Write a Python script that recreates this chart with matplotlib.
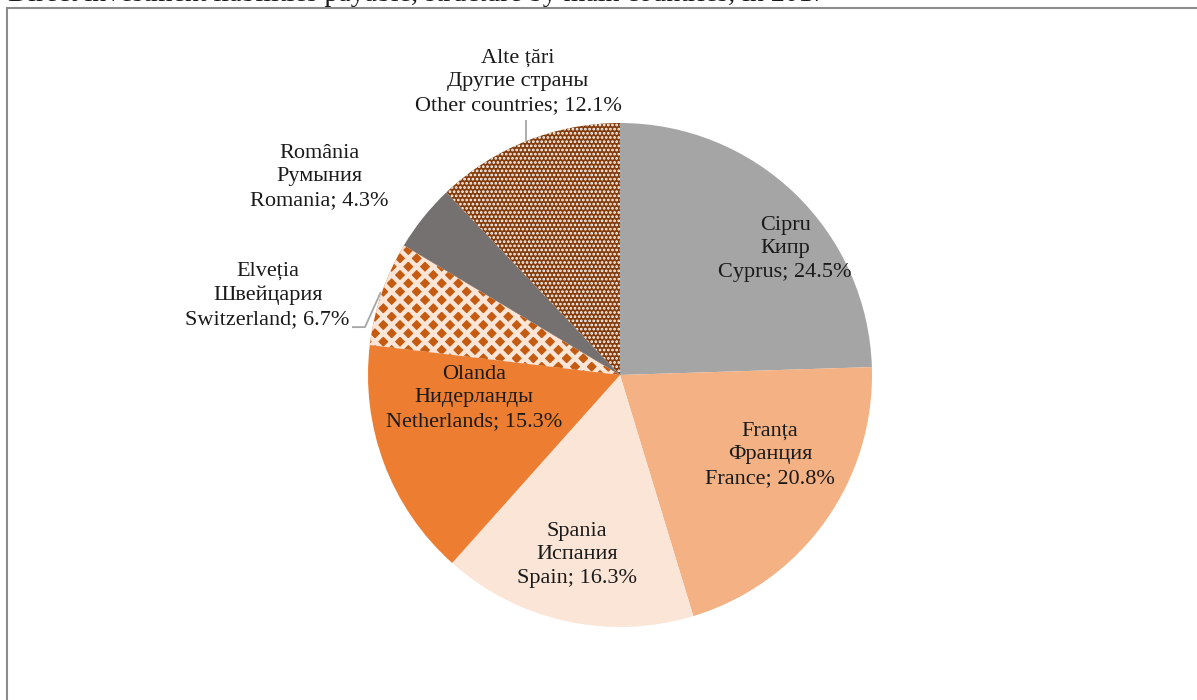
import matplotlib
matplotlib.use("Agg")
import matplotlib.pyplot as plt
from matplotlib.patches import Rectangle
import numpy as np

# Data
labels_ro = ["Cipru", "Franța", "Spania", "Olanda", "Elveția", "România", "Alte țări"]
labels_ru = ["Кипр", "Франция", "Испания", "Нидерланды", "Швейцария", "Румыния", "Другие страны"]
labels_en = ["Cyprus", "France", "Spain", "Netherlands", "Switzerland", "Romania", "Other countries"]
shares = [24.5, 20.8, 16.3, 15.3, 6.7, 4.3, 12.1]

colors = ["#A5A5A5", "#F4B183", "#FBE5D6", "#ED7D31", "#C55A11", "#767171", "#843C0C"]
hatches = [None, None, None, None, "xx", None, "...."]
hatch_colors = [None, None, None, None, "#FBE5D6", None, "#FFFFFF"]
hatch_widths = [None, None, None, None, 3.2, None, 1.3]

# label placement (pie radius = 1), inside labels centered, outside ones right aligned
label_pos = [(0.655, 0.50), (0.595, -0.317), (-0.171, -0.714), (-0.579, -0.091),
             (-1.072, 0.317), (-0.917, 0.786), (-0.405, 1.163)]
label_ha = ["center", "center", "center", "center", "right", "right", "center"]

plt.rcParams["font.family"] = ["Liberation Serif", "DejaVu Serif"]
plt.rcParams["hatch.linewidth"] = 3.2

fig = plt.figure(figsize=(11.97, 7.0), dpi=100)
ax = fig.add_axes([0, 0, 1, 1])
ax.axis("off")

wedges, _ = ax.pie(shares, colors=colors, startangle=90, counterclock=False,
                   radius=1.0, wedgeprops=dict(linewidth=0))
for w, h, hc, hw in zip(wedges, hatches, hatch_colors, hatch_widths):
    if h:
        w.set_hatch(h)
        w.set_edgecolor(hc)
        w.set_linewidth(0)
        if hasattr(w, "set_hatch_linewidth"):
            w.set_hatch_linewidth(hw)

# pie centre at (620, 375) px, radius 252 px
ax.set_aspect("auto")
ax.set_xlim(-620 / 252, (1197 - 620) / 252)
ax.set_ylim(-(700 - 375) / 252, 375 / 252)

for i in range(len(shares)):
    txt = f"{labels_ro[i]}\n{labels_ru[i]}\n{labels_en[i]}; {shares[i]:.1f}%"
    x, y = label_pos[i]
    ax.text(x, y, txt, ha=label_ha[i], va="center", multialignment="center",
            fontsize=16, linespacing=1.35, color="#1a1a1a")

# leader lines for Switzerland and Other countries
for i in [4, 6]:
    w = wedges[i]
    mid = np.deg2rad((w.theta1 + w.theta2) / 2)
    ex, ey = np.cos(mid) * 1.005, np.sin(mid) * 1.005
    if i == 6:
        ax.plot([ex, ex], [ey, ey + 0.075], color="#A6A6A6", lw=1.3)
    else:
        ax.plot([-1.060, -1.012, ex], [0.190, 0.190, ey], color="#A6A6A6", lw=1.3)

# chart frame and clipped title above it
fig.patches.append(Rectangle((7 / 1197, -0.1), 1.2, 1.1 - 8 / 700, transform=fig.transFigure,
                             fill=False, edgecolor="#8C8C8C", lw=1.5))
fig.text(8 / 1197, 1 - 1 / 700, "Direct investment liabilities payable, structure by main countries, in 2017",
         ha="left", va="baseline", fontsize=20, color="#1a1a1a")

fig.savefig("out.png", dpi=100)
